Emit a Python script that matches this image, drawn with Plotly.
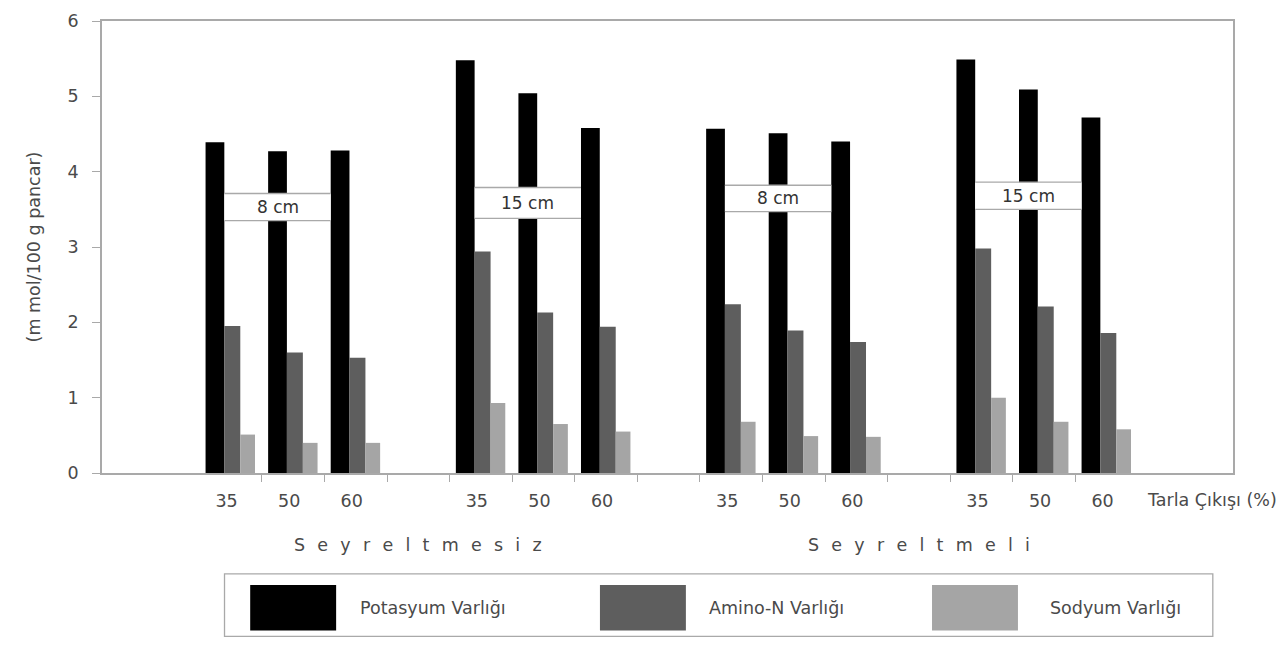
import plotly.graph_objects as go

# ---------------- data ----------------
tarla_cikisi = ["35", "50", "60"]                      # Tarla Çıkışı (%)
seyreltme = ["Seyreltmesiz", "Seyreltmeli"]
sira_arasi = ["8 cm", "15 cm", "8 cm", "15 cm"]

potasyum = [4.39, 4.27, 4.28, 5.48, 5.04, 4.58, 4.57, 4.51, 4.40, 5.49, 5.09, 4.72]
amino_n = [1.95, 1.60, 1.53, 2.94, 2.13, 1.94, 2.24, 1.89, 1.74, 2.98, 2.21, 1.86]
sodyum = [0.51, 0.40, 0.40, 0.93, 0.65, 0.55, 0.68, 0.49, 0.48, 1.00, 0.68, 0.58]

# label boxes (value range on y axis)
box_lo = [3.35, 3.38, 3.47, 3.50]
box_hi = [3.71, 3.79, 3.82, 3.86]

series_names = ["Potasyum Varlığı", "Amino-N Varlığı", "Sodyum Varlığı"]
series_colors = ["#000000", "#5e5e5e", "#a5a5a5"]

# ---------------- layout helpers ----------------
FONT = "DejaVu Sans"
TXT = "#4a4a4a"
AX = "#a9a9a9"

# slot positions: 4 groups of 3 categories with an empty slot between groups
pos = []
for g in range(len(sira_arasi)):
    for j in range(len(tarla_cikisi)):
        pos.append(g * 4 + j)
ticktext = tarla_cikisi * len(sira_arasi)

OFF = 8  # page body margin
W, H = 1288 - 2 * OFF, 646 - 2 * OFF
L = 101.7 - OFF
T = 20.5 - OFF
R = W - (1233.5 - OFF)
B = H - (473.3 - OFF)
PW, PH = W - L - R, H - T - B


def px(x):  # screen x -> paper
    return (x - OFF - L) / PW


def py(y):  # screen y -> paper
    return (H - B - (y - OFF)) / PH


fig = go.Figure()

widths = [0.30, 0.255, 0.235]
offsets = [-0.40, -0.10, 0.155]
for vals, name, col, w, o in zip([potasyum, amino_n, sodyum], series_names,
                                  series_colors, widths, offsets):
    fig.add_trace(go.Bar(x=pos, y=vals, name=name, marker_color=col,
                         marker_line_width=0, width=w, offset=o,
                         showlegend=False))

shapes = []
annotations = []

# label boxes "8 cm"/"15 cm": from right edge of first black bar to left edge of third
for g, lab in enumerate(sira_arasi):
    x0 = pos[g * 3] + offsets[0] + widths[0]
    x1 = pos[g * 3 + 2] + offsets[0]
    shapes.append(dict(type="rect", xref="x", yref="y", x0=x0, x1=x1,
                       y0=box_lo[g], y1=box_hi[g], fillcolor="white",
                       line=dict(width=0), layer="above"))
    for yy in (box_lo[g], box_hi[g]):
        shapes.append(dict(type="line", xref="x", yref="y", x0=x0, x1=x1,
                           y0=yy, y1=yy, line=dict(color=AX, width=1.3),
                           layer="above"))
    annotations.append(dict(xref="x", yref="y", x=(x0 + x1) / 2,
                            y=(box_lo[g] + box_hi[g]) / 2, text=lab,
                            showarrow=False,
                            font=dict(family=FONT, size=17, color="#333")))

# group labels with widened letter spacing
sp = "\u2002\u2009"
for k, name in enumerate(seyreltme):
    first = pos[k * 6]
    last = pos[k * 6 + 5]
    annotations.append(dict(xref="x", yref="paper", x=(first + last) / 2,
                            y=py(545), yanchor="middle",
                            text=sp.join(list(name)), showarrow=False,
                            font=dict(family=FONT, size=17.5, color=TXT)))

# axis caption on the right
annotations.append(dict(xref="paper", yref="paper", x=px(1145), y=py(500),
                        xanchor="left", yanchor="middle",
                        text="Tarla Çıkışı (%)", showarrow=False,
                        font=dict(family=FONT, size=17.5, color=TXT)))

# custom legend with large swatches
shapes.append(dict(type="rect", xref="paper", yref="paper",
                   x0=px(224.3), x1=px(1213.3), y0=py(637), y1=py(574.3),
                   line=dict(color=AX, width=1.3), fillcolor="white",
                   layer="below"))
sw_x = [250, 600, 932.3]
tx_x = [358.3, 707, 1048.3]
for name, col, sx, tx in zip(series_names, series_colors, sw_x, tx_x):
    shapes.append(dict(type="rect", xref="paper", yref="paper",
                       x0=px(sx), x1=px(sx + 86), y0=py(631), y1=py(585.5),
                       fillcolor=col, line=dict(width=0)))
    annotations.append(dict(xref="paper", yref="paper", x=px(tx), y=py(609),
                            xanchor="left", yanchor="middle", text=name,
                            showarrow=False,
                            font=dict(family=FONT, size=17.5, color=TXT)))

fig.update_layout(
    width=W, height=H,
    margin=dict(l=L, r=R, t=T, b=B, autoexpand=False),
    paper_bgcolor="white", plot_bgcolor="white",
    barmode="overlay",
    font=dict(family=FONT, size=17.5, color=TXT),
    shapes=shapes, annotations=annotations,
    showlegend=False,
)

fig.update_xaxes(
    range=[-2.055, 16.02], tickmode="array", tickvals=pos, ticktext=ticktext,
    ticks="", ticklabelstandoff=11, ticklabelshift=-4,
    showline=True, linecolor=AX, linewidth=1.5, mirror=True,
    showgrid=False, zeroline=False,
    minor=dict(tickmode="array", tickvals=[i + 0.5 for i in range(14)],
               ticks="outside", ticklen=7, tickcolor=AX, tickwidth=1,
               showgrid=False),
    tickfont=dict(family=FONT, size=17.5, color=TXT),
)
fig.update_yaxes(
    range=[0, 6], dtick=1, ticks="outside", ticklen=8, tickcolor=AX,
    tickwidth=1.2, ticklabelstandoff=10,
    showline=True, linecolor=AX, linewidth=1.5, mirror=True,
    showgrid=False, zeroline=False,
    tickfont=dict(family=FONT, size=17.5, color=TXT),
    title=dict(text="(m mol/100 g pancar)", standoff=22,
               font=dict(family=FONT, size=17.5, color=TXT)),
)

fig.write_html("out.html")
